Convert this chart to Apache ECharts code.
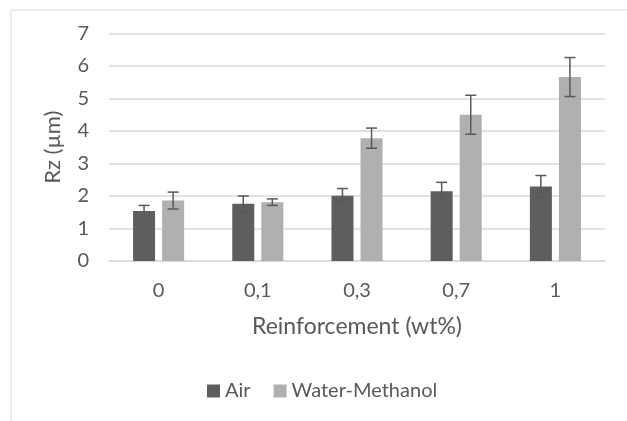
<!DOCTYPE html>
<html>
<head>
<meta charset="utf-8">
<script src="https://cdn.jsdelivr.net/npm/echarts@6/dist/echarts.min.js"></script>
<style>html,body{margin:0;padding:0;background:#fff;}#c{width:627px;height:421px;}</style>
</head>
<body>
<div id="c"></div>
<script>
const categories = ['0', '0,1', '0,3', '0,7', '1'];
const airValues = [1.54, 1.76, 2.01, 2.15, 2.29];
const airErrors = [0.17, 0.24, 0.22, 0.27, 0.34];
const wmValues = [1.86, 1.81, 3.78, 4.50, 5.66];
const wmErrors = [0.26, 0.10, 0.31, 0.60, 0.60];
const yTicks = [0, 1, 2, 3, 4, 5, 6, 7];

const FONT = 'Lato';
const TXT = '#595959';
const BAR_W = 0.222;
const GAP = 0.32;

function errSeries(vals, errs, sign) {
  return {
    type: 'custom',
    z: 10,
    silent: true,
    data: vals.map((v, i) => [i, v - errs[i], v + errs[i]]),
    encode: { x: 0, y: [1, 2] },
    renderItem: function (params, api) {
      const band = api.size([1, 0])[0];
      const bw = band * BAR_W;
      const off = sign * (bw + bw * GAP) / 2;
      const lo = api.coord([api.value(0), api.value(1)]);
      const hi = api.coord([api.value(0), api.value(2)]);
      const x = lo[0] + off;
      const cap = 5.5;
      const st = { stroke: '#595959', lineWidth: 1.5 };
      return {
        type: 'group',
        children: [
          { type: 'line', shape: { x1: x, y1: lo[1], x2: x, y2: hi[1] }, style: st },
          { type: 'line', shape: { x1: x - cap, y1: lo[1], x2: x + cap, y2: lo[1] }, style: st },
          { type: 'line', shape: { x1: x - cap, y1: hi[1], x2: x + cap, y2: hi[1] }, style: st }
        ]
      };
    }
  };
}

const chart = echarts.init(document.getElementById('c'), null, { renderer: 'canvas' });
chart.setOption({
  animation: false,
  backgroundColor: '#fff',
  textStyle: { fontFamily: FONT, color: TXT },
  graphic: [{
    type: 'rect', left: 8.5, top: 7.5, shape: { width: 700, height: 500 },
    style: { fill: 'none', stroke: '#d9d9d9', lineWidth: 1 }, silent: true, z: -1
  }],
  grid: { left: 109, right: 22, top: 33.5, bottom: 160, containLabel: false },
  legend: {
    left: 207, top: 381, padding: 0,
    itemWidth: 13, itemHeight: 13, itemGap: 23,
    icon: 'rect',
    textStyle: { fontFamily: FONT, color: TXT, fontSize: 20 },
    data: ['Air', 'Water-Methanol']
  },
  xAxis: {
    type: 'category',
    data: categories,
    name: 'Reinforcement (wt%)',
    nameLocation: 'middle',
    nameGap: 54,
    nameTextStyle: { fontFamily: FONT, color: TXT, fontSize: 23 },
    axisLine: { lineStyle: { color: '#d9d9d9', width: 1.5 } },
    axisTick: { show: false },
    axisLabel: { fontFamily: FONT, color: TXT, fontSize: 20, margin: 20 }
  },
  yAxis: {
    type: 'value',
    min: yTicks[0], max: yTicks[yTicks.length - 1], interval: 1,
    name: 'Rz (µm)',
    nameLocation: 'middle',
    nameGap: 45,
    nameRotate: 90,
    nameTextStyle: { fontFamily: FONT, color: TXT, fontSize: 22 },
    axisLine: { show: false },
    axisTick: { show: false },
    axisLabel: { fontFamily: FONT, color: TXT, fontSize: 20, margin: 20 },
    splitLine: { lineStyle: { color: '#d9d9d9', width: 1.5 } }
  },
  series: [
    {
      name: 'Air', type: 'bar', data: airValues,
      barWidth: (BAR_W * 100) + '%', barGap: (GAP * 100) + '%',
      itemStyle: { color: '#5e5e5e' }
    },
    {
      name: 'Water-Methanol', type: 'bar', data: wmValues,
      barWidth: (BAR_W * 100) + '%', barGap: (GAP * 100) + '%',
      itemStyle: { color: '#b0b0b0' }
    },
    errSeries(airValues, airErrors, -1),
    errSeries(wmValues, wmErrors, 1)
  ]
});
</script>
</body>
</html>
